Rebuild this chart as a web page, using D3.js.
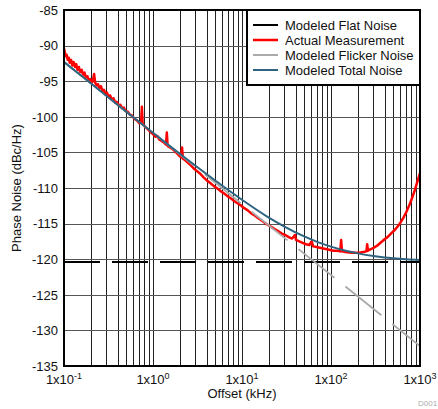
<!DOCTYPE html>
<html><head><meta charset="utf-8">
<script src="https://cdn.jsdelivr.net/npm/d3@7"></script>
<style>
body{margin:0;background:#fff;}
svg{display:block;font-family:"Liberation Sans",Arial,sans-serif;}
</style></head>
<body><svg id="c" width="438" height="409"></svg>
<script>
// ---- data ----
const xTickExponents = [-1, 0, 1, 2, 3];
const yTicks = [-85, -90, -95, -100, -105, -110, -115, -120, -125, -130, -135];
const seriesNames = ["Modeled Flat Noise", "Actual Measurement", "Modeled Flicker Noise", "Modeled Total Noise"];
const flatNoise = [[0.1, -120.4], [1000, -120.4]];
const flickerNoise = [[0.1, -92.3], [1000, -132.2]];
const totalNoise = [[0.1,-92.3],[0.2,-95.3],[0.5,-99.3],[1,-102.25],[2,-105.2],[5,-108.95],[10,-111.65],[20,-114.15],[30,-115.41],[50,-116.8],[70,-117.56],[100,-118.24],[150,-118.85],[200,-119.18],[300,-119.55],[500,-119.87],[700,-120.02],[1000,-120.13]];
const measured = [[0.100,-90.4],[0.102,-90.9],[0.104,-91.5],[0.107,-91.3],[0.110,-92.0],[0.113,-91.7],[0.116,-92.4],[0.120,-92.0],[0.124,-92.8],[0.128,-92.3],[0.133,-93.0],[0.137,-92.6],[0.142,-93.4],[0.147,-93.0],[0.152,-93.7],[0.158,-93.4],[0.164,-94.1],[0.170,-93.8],[0.176,-94.5],[0.183,-94.3],[0.190,-95.0],[0.197,-94.7],[0.205,-95.3],[0.212,-94.8],[0.218,-94.0],[0.224,-95.2],[0.232,-95.6],[0.241,-95.4],[0.250,-96.0],[0.260,-95.7],[0.270,-96.4],[0.281,-96.2],[0.292,-96.8],[0.304,-96.6],[0.316,-97.2],[0.33,-97.0],[0.345,-97.6],[0.36,-97.4],[0.375,-98.0],[0.39,-97.9],[0.41,-98.4],[0.43,-98.3],[0.45,-98.8],[0.47,-98.7],[0.49,-99.2],[0.52,-99.3],[0.55,-99.7],[0.58,-99.8],[0.61,-100.2],[0.64,-100.4],[0.67,-100.6],[0.70,-100.9],[0.735,-100.8],[0.75,-98.6],[0.765,-101.0],[0.80,-101.3],[0.85,-101.6],[0.90,-101.9],[0.95,-102.2],[1.00,-102.4],[1.06,-102.8],[1.12,-102.7],[1.18,-103.2],[1.25,-103.4],[1.32,-103.6],[1.40,-103.9],[1.43,-102.2],[1.46,-104.1],[1.55,-104.3],[1.65,-104.5],[1.75,-104.8],[1.85,-105.1],[1.95,-105.4],[2.07,-105.7],[2.12,-104.3],[2.17,-105.9],[2.3,-106.1],[2.5,-106.5],[2.7,-106.9],[2.9,-107.3],[3.1,-107.6],[3.4,-108.0],[3.7,-108.5],[4.0,-108.9],[4.4,-109.3],[4.8,-109.7],[5.2,-110.0],[5.7,-110.4],[6.2,-110.7],[6.8,-111.1],[7.4,-111.4],[8.1,-111.8],[8.8,-112.1],[9.6,-112.4],[10.5,-112.8],[11.5,-113.1],[12.5,-113.5],[13.7,-113.8],[15,-114.2],[16.4,-114.5],[18,-114.9],[19.6,-115.2],[21.5,-115.5],[23.5,-115.8],[25.7,-116.1],[28,-116.4],[30.6,-116.6],[33.5,-116.9],[36.6,-117.1],[39.4,-116.6],[40.5,-117.3],[44,-117.5],[48,-117.7],[52.5,-117.9],[57,-118.0],[60.6,-117.5],[63,-118.2],[69,-118.3],[75,-118.4],[82,-118.5],[90,-118.6],[98,-118.7],[107,-118.8],[117,-118.8],[127,-118.9],[130,-117.3],[133,-118.9],[145,-119.0],[160,-119.05],[175,-119.1],[190,-119.1],[210,-119.1],[230,-119.0],[250,-118.9],[255,-117.9],[260,-118.8],[280,-118.6],[300,-118.4],[330,-118.1],[360,-117.7],[400,-117.2],[440,-116.8],[480,-116.3],[520,-115.9],[560,-115.4],[600,-114.9],[650,-114.2],[700,-113.4],[760,-112.4],[820,-111.3],[880,-110.2],[940,-109.0],[1000,-107.9]];

// ---- layout ----
const L = 64, T = 10, R = 420, B = 366;
const FS = 13;
const svg = d3.select("#c");
const x = d3.scaleLog().domain([0.1, 1000]).range([L, R]);
const y = d3.scaleLinear().domain([-135, -85]).range([B, T]);

// grid
const minor = [];
for (let e = -1; e < 3; e++) for (let k = 2; k <= 9; k++) minor.push(k * Math.pow(10, e));
const vgrid = xTickExponents.map(e => Math.pow(10, e)).concat(minor);
const g = svg.append("g");
g.selectAll(".v").data(vgrid).join("line")
  .attr("x1", d => Math.round(x(d)) + 0.5).attr("x2", d => Math.round(x(d)) + 0.5)
  .attr("y1", T).attr("y2", B).attr("stroke", "#222").attr("stroke-width", 1);
g.selectAll(".h").data(yTicks).join("line")
  .attr("y1", d => Math.round(y(d)) + 0.5).attr("y2", d => Math.round(y(d)) + 0.5)
  .attr("x1", L).attr("x2", R).attr("stroke", "#555").attr("stroke-width", 1);

// y tick labels
svg.append("g").selectAll("text").data(yTicks).join("text")
  .attr("x", 58).attr("y", d => y(d) + 4.7).attr("text-anchor", "end")
  .attr("font-size", FS).attr("fill", "#111").text(d => d);

// x tick labels
const xl = svg.append("g").selectAll("text").data(xTickExponents).join("text")
  .attr("x", d => x(Math.pow(10, d))).attr("y", 384).attr("text-anchor", "middle")
  .attr("font-size", FS).attr("fill", "#111");
xl.append("tspan").text("1x10");
xl.append("tspan").attr("dy", -5).attr("font-size", 9).text(d => d);

// axis titles
svg.append("text").attr("x", 242).attr("y", 398).attr("text-anchor", "middle")
  .attr("font-size", FS).attr("fill", "#111").text("Offset (kHz)");
svg.append("text").attr("transform", "translate(21," + ((T + B) / 2) + ") rotate(-90)")
  .attr("text-anchor", "middle").attr("font-size", FS).attr("fill", "#111").text("Phase Noise (dBc/Hz)");
svg.append("text").attr("x", 418).attr("y", 406).attr("font-size", 8).attr("fill", "#aaa").text("D001");

// series
svg.append("clipPath").attr("id", "pc").append("rect")
  .attr("x", L).attr("y", T).attr("width", R - L).attr("height", B - T);
const line = d3.line().x(d => x(d[0])).y(d => y(d[1]));
const sline = d3.line().x(d => x(d[0])).y(d => y(d[1])).curve(d3.curveMonotoneX);
const pg = svg.append("g").attr("clip-path", "url(#pc)");
pg.append("path").attr("d", line(flatNoise)).attr("fill", "none").attr("stroke", "#000")
  .attr("stroke-width", 2).attr("stroke-dasharray", "36,12");
pg.append("path").attr("d", line(measured)).attr("fill", "none").attr("stroke", "#ff0000")
  .attr("stroke-width", 2.5).attr("stroke-linejoin", "round");
pg.append("path").attr("d", line(flickerNoise)).attr("fill", "none").attr("stroke", "#aaaaaa")
  .attr("stroke-width", 1.8).attr("stroke-dasharray", "46,14");
pg.append("path").attr("d", sline(totalNoise)).attr("fill", "none").attr("stroke", "#2e6480")
  .attr("stroke-width", 2);

// frame
svg.append("rect").attr("x", L).attr("y", T).attr("width", R - L).attr("height", B - T)
  .attr("fill", "none").attr("stroke", "#000").attr("stroke-width", 2);

// legend
const colors = ["#000000", "#ff0000", "#aaaaaa", "#2e6480"];
const lg = svg.append("g");
lg.append("rect").attr("x", 247).attr("y", 10).attr("width", 173).attr("height", 75)
  .attr("fill", "#fff").attr("stroke", "#000").attr("stroke-width", 2);
seriesNames.forEach((n, i) => {
  const yy = 25 + i * 15;
  lg.append("line").attr("x1", 253).attr("x2", 278).attr("y1", yy).attr("y2", yy)
    .attr("stroke", colors[i]).attr("stroke-width", i === 1 ? 2.5 : 2);
  lg.append("text").attr("x", 285).attr("y", yy + 4.6).attr("font-size", FS).attr("fill", "#111").text(n);
});
</script></body></html>
